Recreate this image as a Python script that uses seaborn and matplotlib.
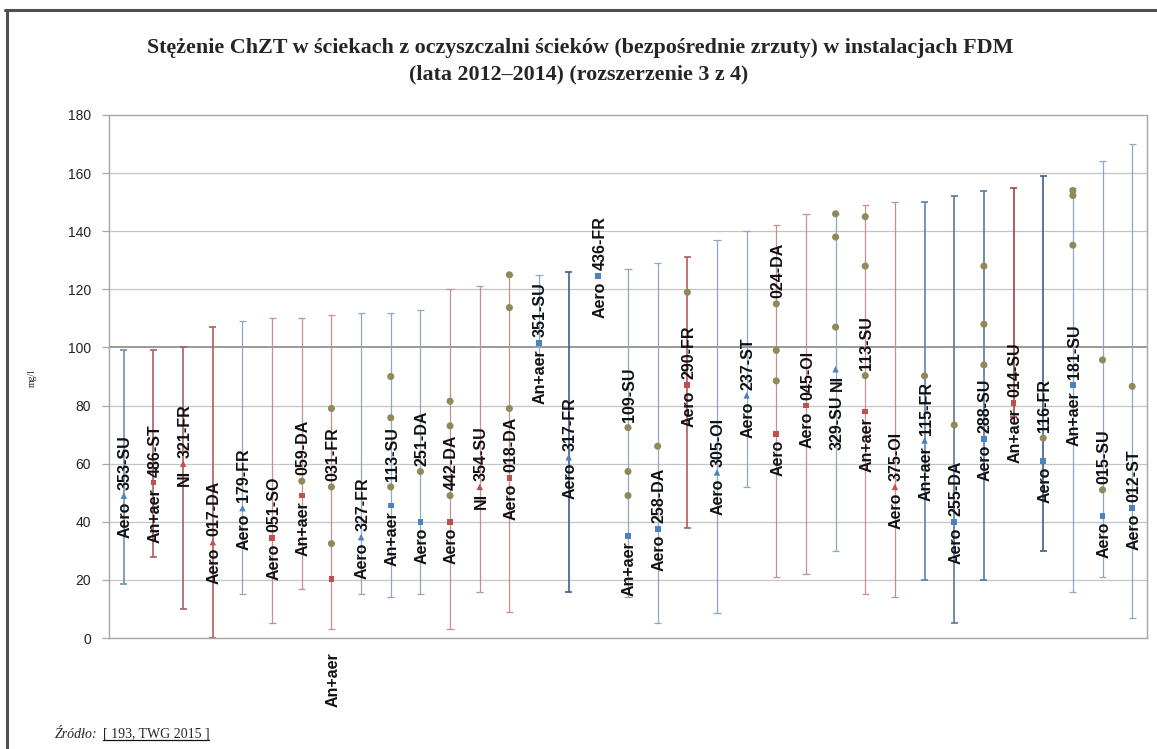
import numpy as np
import pandas as pd
import matplotlib
matplotlib.use("Agg")
import matplotlib.pyplot as plt
from matplotlib.lines import Line2D
import seaborn as sns

# ---- data -------------------------------------------------------------
codes = ["353-SU", "486-ST", "321-FR", "017-DA", "179-FR", "051-SO", "059-DA",
         "031-FR", "327-FR", "113-SU", "251-DA", "442-DA", "354-SU", "018-DA",
         "351-SU", "317-FR", "436-FR", "109-SU", "258-DA", "290-FR", "305-OI",
         "237-ST", "024-DA", "045-OI", "329-SU", "113-SU", "375-OI", "115-FR",
         "255-DA", "288-SU", "014-SU", "116-FR", "181-SU", "015-SU", "012-ST"]
kinds = ["Aero", "An+aer", "NI", "Aero", "Aero", "Aero", "An+aer",
         "An+aer", "Aero", "An+aer", "Aero", "Aero", "NI", "Aero",
         "An+aer", "Aero", "Aero", "An+aer", "Aero", "Aero", "Aero",
         "Aero", "Aero", "Aero", "NI", "An+aer", "Aero", "An+aer",
         "Aero", "Aero", "An+aer", "Aero", "An+aer", "Aero", "Aero"]
range_min = [18.7, 28, 10, 0, 15, 5, 17, 3, 15, 14, 15, 3, 16, 9,
             96, 16, np.nan, 14, 5, 38, 8.6, 52, 21, 22, 30, 15, 14, 20,
             5, 20, 76, 30, 16, 21, 7]
range_max = [99, 99, 100, 107, 109, 110, 110, 111, 112, 112, 113, 120, 121, 125,
             125, 126, np.nan, 127, 129, 131, 137, 140, 142, 146, 146, 149, 150, 150,
             152, 154, 155, 159, 155, 164, 170]
main_value = [49, 53.5, 60, 33, 44.7, 34.4, 49, 20.3, 34.7, 45.6, 40, 40, 52, 55,
              101.5, 62.2, 124.5, 35.2, 37.5, 87, 57, 83.5, 70.2, 80, 92.5, 78, 52, 68,
              40, 68.4, 81, 61, 87, 42, 44.7]
main_series = ["blue-tri", "red-sq", "red-tri", "red-tri", "blue-tri", "red-sq", "red-sq",
               "red-sq", "blue-tri", "blue-sq", "blue-sq", "red-sq", "red-tri", "red-sq",
               "blue-sq", "blue-tri", "blue-sq", "blue-sq", "blue-sq", "red-sq", "blue-tri",
               "blue-tri", "red-sq", "red-sq", "blue-tri", "red-sq", "red-tri", "blue-tri",
               "blue-sq", "blue-sq", "red-sq", "blue-sq", "blue-sq", "blue-sq", "blue-sq"]
other_values = [[], [], [], [], [], [], [54],
                [79, 52, 32.5], [], [90, 75.8, 52], [57.3], [81.5, 73, 49], [], [125, 113.7, 79],
                [], [], [], [72.4, 57.3, 49], [66], [119], [],
                [], [115, 99, 88.5], [], [146, 138, 107], [145, 128, 90.3], [], [90.2],
                [73.3], [128, 108, 94], [], [68.8], [154, 152.3, 135.2], [95.7, 51], [86.6]]
y_ticks = [0, 20, 40, 60, 80, 100, 120, 140, 160, 180]

title_lines = ["Stężenie ChZT w ściekach z oczyszczalni ścieków (bezpośrednie zrzuty) w instalacjach FDM",
               "(lata 2012–2014) (rozszerzenie 3 z 4)"]

# ---- style ------------------------------------------------------------
BLUE = "#4F81BD"
RED = "#C0504D"
OLIVE = "#8F8A58"
palette = {"blue-tri": BLUE, "blue-sq": BLUE, "red-tri": RED, "red-sq": RED, "other": OLIVE}
markers = {"blue-tri": "^", "blue-sq": "s", "red-tri": "^", "red-sq": "s", "other": "o"}
sizes = {"blue-tri": 22, "blue-sq": 17, "red-tri": 22, "red-sq": 17, "other": 26}
whisker_dark = {"317-FR": "#3E5F8E", "116-FR": "#3E5F8E", "288-SU": "#5677A6",
                "255-DA": "#5677A6", "115-FR": "#5F80AE", "353-SU": "#6F8DB8",
                "014-SU": "#9C4644", "486-ST": "#A8605E", "017-DA": "#A8605E",
                "321-FR": "#A8605E", "290-FR": "#B45B59"}

sns.set_theme(style="white")
plt.rcParams["font.family"] = ["Liberation Sans", "DejaVu Sans"]

fig = plt.figure(figsize=(11.57, 7.49), dpi=100)
ax = fig.add_axes([109 / 1157, 1 - 638 / 749, 1038 / 1157, 523 / 749])

n = len(codes)

# gridlines
for t in y_ticks[1:-1]:
    ax.axhline(t, color="#7F7F7F" if t == 100 else "#C4C4C4",
               lw=1.1 if t == 100 else 0.9, zorder=0)

# min-max whiskers with caps
for i in range(n):
    lo, hi = range_min[i], range_max[i]
    if np.isnan(lo):
        continue
    base = BLUE if main_series[i].startswith("blue") else RED
    if codes[i] in whisker_dark:
        col, lw = whisker_dark[codes[i]], 1.2
    else:
        col, lw = sns.blend_palette([base, "#CDCDCD"], 3)[1], 0.9
    ax.vlines(i, lo, hi, color=col, lw=lw, zorder=1)
    ax.hlines([lo, hi], i - 0.12, i + 0.12, color=col, lw=lw, zorder=1)

# points
rows = []
for i in range(n):
    rows.append({"x": i, "value": main_value[i], "series": main_series[i]})
    for v in other_values[i]:
        rows.append({"x": i, "value": v, "series": "other"})
pts = pd.DataFrame(rows)
sns.scatterplot(data=pts, x="x", y="value", hue="series", style="series", size="series",
                palette=palette, markers=markers, sizes=sizes, linewidth=0,
                legend=False, ax=ax, zorder=3)

ax.set_xlim(-0.5, n - 0.5)
ax.set_ylim(0, 180)
ax.set_xticks([])
ax.set_yticks(y_ticks)
ax.set_yticklabels([str(t) for t in y_ticks], fontsize=10, color="#222222")
ax.tick_params(axis="y", length=5, width=0.9, color="#A6A6A6", direction="out", pad=8, left=True)
ax.set_xlabel("")
ax.set_ylabel("")
for s in ax.spines.values():
    s.set_color("#A6A6A6")
    s.set_linewidth(1.0)

# ---- rotated data labels around the main marker ------------------------
fig.canvas.draw()
renderer = fig.canvas.get_renderer()
unit_px = ax.transData.transform((0, 1))[1] - ax.transData.transform((0, 0))[1]
gap = 2.0
label_kw = dict(rotation=90, rotation_mode="anchor", va="center_baseline", fontsize=11.5,
                fontweight="bold", color="#111111", clip_on=False, zorder=5)
kind_end_override = {"031-FR": -5.0}

for i in range(n):
    m = main_value[i]
    end = kind_end_override.get(codes[i], m - gap)
    tk = ax.text(i, end, kinds[i], ha="right", **label_kw)
    if codes[i] == "329-SU":
        # code drawn below the kind label
        klen = tk.get_window_extent(renderer).height / unit_px
        ax.text(i, end - klen - 1.5, codes[i], ha="right", **label_kw)
        continue
    start = m + gap
    tc = ax.text(i, start, codes[i], ha="left", **label_kw)
    length = tc.get_window_extent(renderer).height / unit_px
    moved = True
    while moved:
        moved = False
        for v in sorted(other_values[i]):
            if start - gap < v < start + length:
                start = v + gap
                moved = True
    tc.set_y(start)

# ---- titles, axis caption, source -------------------------------------
fig.text(0.5015, 1 - 48 / 749, title_lines[0], ha="center", va="center",
         family="Liberation Serif", fontweight="bold", fontsize=15.8)
fig.text(0.5, 1 - 74 / 749, title_lines[1], ha="center", va="center",
         family="Liberation Serif", fontweight="bold", fontsize=15.8)
fig.text(32 / 1157, 1 - 378 / 749, "mg/l", rotation=90, ha="center", va="center",
         family="Liberation Serif", fontsize=7)

src1 = fig.text(55 / 1157, 1 - 734 / 749, "Źródło:", ha="left", va="center",
                family="Liberation Serif", style="italic", fontsize=10)
src2 = fig.text(96 / 1157, 1 - 734 / 749, "[ 193, TWG 2015 ]", ha="left", va="center",
                family="Liberation Serif", fontsize=10)
fig.canvas.draw()
e1 = src1.get_window_extent(renderer)
src2.set_x((e1.x1 + 5) / fig.bbox.width)
fig.canvas.draw()
e2 = src2.get_window_extent(renderer)
uy = (e2.y0 + 1) / fig.bbox.height
fig.add_artist(Line2D([e2.x0 / fig.bbox.width, e2.x1 / fig.bbox.width], [uy, uy],
                      transform=fig.transFigure, color="#111111", lw=0.9))

# page frame
fig.add_artist(Line2D([5 / 1157, 1.0], [1 - 10 / 749, 1 - 10 / 749],
                      transform=fig.transFigure, color="#505050", lw=2.2))
fig.add_artist(Line2D([7 / 1157, 7 / 1157], [0.0, 1 - 10 / 749],
                      transform=fig.transFigure, color="#505050", lw=2.2))

fig.savefig("out.png", dpi=100)
